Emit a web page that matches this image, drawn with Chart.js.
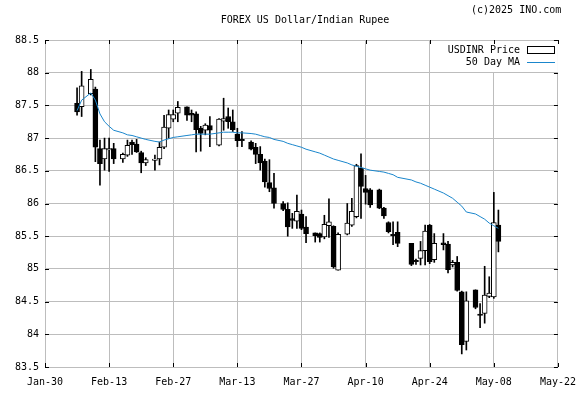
<!DOCTYPE html>
<html>
<head>
<meta charset="utf-8">
<script src="https://cdn.jsdelivr.net/npm/chart.js@4/dist/chart.umd.min.js"></script>
<style>
  body{margin:0;background:#fff;}
  canvas{display:block;}
</style>
</head>
<body>
<canvas id="chart" width="585" height="394"></canvas>
<script>
// days after Jan-30 (2025) for each candle
const days = [7,8,10,11,12,13,14,15,17,18,19,20,21,22,24,25,26,27,28,29,31,32,33,34,35,36,38,39,40,41,42,43,
  45,46,47,48,49,50,52,53,54,55,56,57,59,60,61,62,63,64,66,67,68,69,70,71,73,74,75,76,77,
  80,81,82,83,84,85,87,88,89,90,91,92,94,95,96,97,98,99];

const open = [87.53,87.48,87.68,87.75,86.84,86.68,86.82,86.84,86.68,86.74,86.94,86.91,86.78,86.62,86.66,86.68,86.86,87.15,87.29,87.38,
  87.48,87.38,87.37,87.15,87.12,87.19,86.89,87.26,87.33,87.25,87.06,86.98,86.94,86.86,86.75,86.65,86.32,86.24,86.00,85.91,
  85.77,85.73,85.84,85.64,85.55,85.54,85.49,85.66,85.65,84.98,85.53,85.67,85.80,86.54,86.23,86.21,86.21,85.93,85.71,85.53,
  85.56,85.39,85.13,85.16,85.28,85.67,85.14,85.40,85.38,85.06,85.10,84.65,83.89,84.68,84.31,84.32,84.58,84.57,85.67];
const high = [87.77,88.02,88.05,87.78,86.97,87.00,87.00,86.92,86.77,86.97,86.97,86.98,86.80,86.70,86.74,86.94,87.35,87.43,87.43,87.56,
  87.48,87.43,87.40,87.18,87.22,87.33,87.30,87.61,87.46,87.43,87.15,87.10,86.96,86.92,86.87,86.68,86.67,86.46,86.03,86.01,
  85.85,86.13,85.90,85.80,85.55,85.55,85.82,86.07,85.66,85.55,86.00,86.08,86.60,86.76,86.43,86.23,86.22,85.94,85.72,85.72,
  85.72,85.39,85.15,85.42,85.67,85.68,85.54,85.54,85.42,85.13,85.19,84.66,84.65,84.68,84.47,85.04,84.88,86.17,85.90];
const low = [87.35,87.33,87.66,86.64,86.28,86.51,86.49,86.61,86.63,86.72,86.75,86.78,86.47,86.58,86.51,86.59,86.84,87.00,87.25,87.25,
  87.27,87.25,86.79,86.80,87.05,86.87,86.88,87.12,87.15,87.10,86.87,86.87,86.82,86.61,86.51,86.25,86.18,85.93,85.89,85.50,
  85.62,85.62,85.60,85.40,85.41,85.41,85.46,85.48,85.01,84.98,85.52,85.65,85.78,85.77,85.99,85.94,85.92,85.77,85.55,85.37,
  85.34,85.05,85.07,85.06,85.06,85.08,85.10,85.29,84.94,85.03,84.66,83.70,83.76,84.39,84.10,84.17,84.56,84.55,85.26];
const close = [87.40,87.80,87.90,86.86,86.61,86.84,86.84,86.68,86.75,86.89,86.90,86.79,86.62,86.67,86.68,86.86,87.17,87.36,87.36,87.47,
  87.35,87.35,87.13,87.07,87.20,87.12,87.29,87.30,87.25,87.13,86.96,86.96,86.83,86.75,86.62,86.33,86.23,86.00,85.91,85.64,
  85.74,85.88,85.62,85.54,85.51,85.48,85.68,85.72,85.03,85.53,85.70,85.88,86.58,86.26,86.17,85.98,85.93,85.81,85.57,85.51,
  85.39,85.07,85.11,85.28,85.58,85.11,85.39,85.37,84.99,85.10,84.67,83.84,84.51,84.41,84.29,84.60,84.63,85.71,85.42];
const ma50 = [87.42,87.58,87.69,87.58,87.37,87.25,87.18,87.12,87.08,87.05,87.04,87.02,87.00,86.98,86.95,86.94,86.97,86.99,87.01,87.02,
  87.04,87.05,87.06,87.06,87.06,87.06,87.08,87.09,87.09,87.09,87.08,87.08,87.07,87.06,87.04,87.02,87.01,86.98,86.95,86.92,
  86.90,86.88,86.86,86.83,86.79,86.77,86.74,86.71,86.68,86.66,86.62,86.59,86.57,86.55,86.53,86.51,86.49,86.48,86.46,86.44,
  86.40,86.36,86.33,86.31,86.28,86.25,86.22,86.16,86.12,86.08,86.02,85.96,85.87,85.84,85.80,85.76,85.70,85.66,85.62];

const xTickLabels = ['Jan-30','Feb-13','Feb-27','Mar-13','Mar-27','Apr-10','Apr-24','May-08','May-22'];

const FONT = {family:'"DejaVu Sans Mono", monospace', size:10};
const GRID = '#bdbdbd';
const MA_COLOR = '#1a86cc';

const wicks = days.map((d,i)=>({x:d, y:[low[i], high[i]]}));
const bodies = days.map((d,i)=>({x:d, y:[open[i], close[i]]}));
const bodyFill = days.map((d,i)=> close[i] >= open[i] ? '#ffffff' : '#000000');
const maLine = days.map((d,i)=>({x:d, y:ma50[i]}));

const extras = {
  id:'extras',
  afterDatasetsDraw(chart){
    const ctx = chart.ctx, a = chart.chartArea;
    // legend box
    ctx.save();
    ctx.fillStyle = '#fff';
    ctx.fillRect(438, a.top+1, a.right-438, 31);
    ctx.font = '10px "DejaVu Sans Mono", monospace';
    ctx.fillStyle = '#000';
    ctx.textAlign = 'right';
    ctx.textBaseline = 'middle';
    ctx.fillText('USDINR Price', 520, 50);
    ctx.fillText('50 Day MA', 520, 62);
    ctx.strokeStyle = '#000';
    ctx.lineWidth = 1;
    ctx.strokeRect(527.5, 46.5, 27, 7);
    ctx.strokeStyle = MA_COLOR;
    ctx.beginPath();
    ctx.moveTo(527, 62.5);
    ctx.lineTo(555, 62.5);
    ctx.stroke();
    ctx.restore();
  },
  afterDraw(chart){
    const ctx = chart.ctx, a = chart.chartArea;
    const {x, y} = chart.scales;
    ctx.save();
    ctx.strokeStyle = '#000';
    ctx.lineWidth = 1;
    ctx.beginPath();
    x.ticks.forEach(t=>{
      const px = Math.round(x.getPixelForValue(t.value)) + 0.5;
      ctx.moveTo(px, a.bottom); ctx.lineTo(px, a.bottom-4);
      ctx.moveTo(px, a.top); ctx.lineTo(px, a.top+4);
    });
    y.ticks.forEach(t=>{
      const py = Math.round(y.getPixelForValue(t.value)) + 0.5;
      ctx.moveTo(a.left, py); ctx.lineTo(a.left+4, py);
      ctx.moveTo(a.right, py); ctx.lineTo(a.right-4, py);
    });
    ctx.stroke();

    ctx.font = '10px "DejaVu Sans Mono", monospace';
    ctx.fillStyle = '#000';
    ctx.textBaseline = 'middle';
    ctx.textAlign = 'center';
    ctx.fillText('FOREX US Dollar/Indian Rupee', 305, 20);
    ctx.textAlign = 'left';
    ctx.fillText('(c)2025 INO.com', 471, 10);
    ctx.restore();
  }
};

new Chart(document.getElementById('chart'), {
  type:'bar',
  data:{
    datasets:[
      {type:'line', label:'50 Day MA', data:maLine, borderColor:MA_COLOR, borderWidth:1,
       pointRadius:0, tension:0, fill:false, order:1},
      {label:'body', data:bodies, backgroundColor:bodyFill, borderColor:'#000', borderWidth:1,
       borderSkipped:false, barThickness:5, grouped:false, order:2},
      {label:'wick', data:wicks, backgroundColor:'#000', borderWidth:0,
       barThickness:1, grouped:false, order:3}
    ]
  },
  options:{
    responsive:false,
    animation:false,
    devicePixelRatio:1,
    layout:{padding:{top:40, right:18, left:0, bottom:0}},
    plugins:{legend:{display:false}, tooltip:{enabled:false}},
    scales:{
      x:{
        type:'linear', min:0, max:112, offset:false,
        afterFit(s){ s.height = 27; },
        grid:{color:GRID, drawTicks:false, offset:false},
        border:{color:GRID},
        ticks:{stepSize:14, autoSkip:false, maxRotation:0, padding:9, color:'#000', font:FONT,
          callback:v=>xTickLabels[v/14]}
      },
      y:{
        min:83.5, max:88.5,
        afterFit(s){ s.width = 45; },
        grid:{color:GRID, drawTicks:false},
        border:{color:GRID},
        ticks:{stepSize:0.5, padding:6, color:'#000', font:FONT,
          callback:v=>String(Math.round(v*10)/10)}
      }
    }
  },
  plugins:[extras]
});
</script>
</body>
</html>
